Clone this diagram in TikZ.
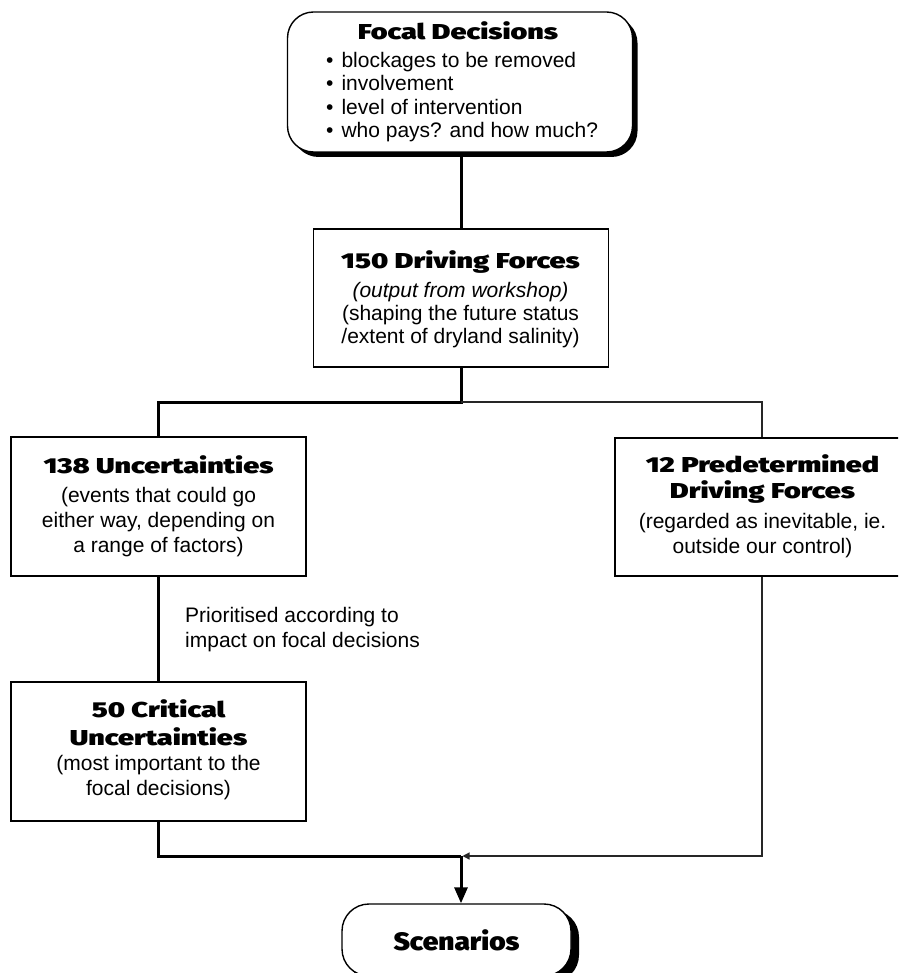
\documentclass[tikz,border=0pt]{standalone}
\usepackage{fontspec}
\usepackage{graphicx}
\setmainfont{Liberation Sans}
% heavy face for the box headings: first black weight that is available
\IfFontExistsTF{Fira Sans Black}{\newfontfamily\heavyfont{Fira Sans Black}}{%
  \IfFontExistsTF{Lato Black}{\newfontfamily\heavyfont{Lato Black}}{%
    \newfontfamily\heavyfont{DejaVu Sans Bold}}}
\usetikzlibrary{arrows.meta,shadows}

\newlength\hvH
\newlength\hvW
\newcommand\ttlbox[1]{\scalebox{\ttlstretch}[1]{#1}}
\newcommand\scnbox[1]{\scalebox{\scnstretch}[1]{#1}}

% heading size from a cap height of 15pt, widened to the set width
\settoheight\hvH{\heavyfont\fontsize{10}{12}\selectfont H}
\ifdim\hvH<1pt \hvH=7pt \fi
\pgfmathsetmacro\ttlsize{10*15/\hvH}
\pgfmathsetmacro\scnsize{10*17.5/\hvH}
\settowidth\hvW{\heavyfont\fontsize{\ttlsize}{24}\selectfont 138 Uncertainties}
\ifdim\hvW<1pt \hvW=230pt \fi
\pgfmathsetmacro\ttlstretch{230/\hvW}
\settowidth\hvW{\heavyfont\fontsize{\scnsize}{24}\selectfont Scenarios}
\ifdim\hvW<1pt \hvW=126pt \fi
\pgfmathsetmacro\scnstretch{126/\hvW}

\tikzset{
  box/.style={draw=black, line width=1.4pt, fill=white, rectangle, inner sep=0pt},
  pill/.style={draw=black, line width=1.4pt, fill=white, rectangle, inner sep=0pt,
    drop shadow={shadow xshift=5pt, shadow yshift=-5pt, fill=black, opacity=1}},
  ttl/.style={anchor=base, inner sep=0pt, font=\heavyfont\fontsize{\ttlsize}{24}\selectfont},
  txt/.style={anchor=base, inner sep=0pt, font=\fontsize{21}{25}\selectfont},
  itxt/.style={txt, font=\fontsize{21}{25}\selectfont\itshape},
  ltxt/.style={anchor=base west, inner sep=0pt, font=\fontsize{21}{25}\selectfont},
  heavyline/.style={line width=3pt, draw=black},
  lightline/.style={line width=1.2pt, draw=black!85},
}

\begin{document}
\begin{tikzpicture}[x=1pt, y=-1pt]
\clip (0,0) rectangle (898,973);
\fill[white] (0,0) rectangle (898,973);

% ---- boxes ----
\node[pill, rounded corners=26pt, minimum width=345pt, minimum height=140pt] (foc) at (460,82) {};
\node[box, minimum width=295pt, minimum height=138pt] (drv) at (461,298) {};
\node[box, minimum width=295pt, minimum height=139pt] (unc) at (158.5,506.5) {};
\node[box, minimum width=294pt, minimum height=138pt] (pre) at (762,507) {};
\node[box, minimum width=295pt, minimum height=139pt] (crit) at (158.5,751.5) {};
\node[pill, rounded corners=27pt, minimum width=229pt, minimum height=72pt,
      drop shadow={shadow xshift=8pt, shadow yshift=-6pt, fill=black, opacity=1},
      font=\heavyfont\fontsize{\scnsize}{27}\selectfont] (scen) at (456.5,940) {\scnbox{Scenarios}};

% ---- focal decisions ----
\node[ttl] (focT) at (458,40) {\ttlbox{Focal Decisions}};
\node[ltxt] (focA) at (326,68) {\textbullet\hskip 8pt blockages to be removed};
\node[ltxt] (focB) at (326,91) {\textbullet\hskip 8pt involvement};
\node[ltxt] (focC) at (326,114.5) {\textbullet\hskip 8pt level of intervention};
\node[ltxt] (focD) at (326,138) {\textbullet\hskip 8pt who pays? and how much?};

% ---- driving forces ----
\node[ttl] (drvT) at (460.5,269) {\ttlbox{150 Driving Forces}};
\node[itxt] (drvA) at (460.5,297.5) {(output from workshop)};
\node[txt] (drvB) at (460.5,320) {(shaping the future status};
\node[txt] (drvC) at (460.5,343) {/extent of dryland salinity)};

% ---- uncertainties ----
\node[ttl] (uncT) at (158.5,473) {\ttlbox{138 Uncertainties}};
\node[txt] (uncA) at (158.5,502) {(events that could go};
\node[txt] (uncB) at (158.5,527) {either way, depending on};
\node[txt] (uncC) at (158.5,552) {a range of factors)};

% ---- predetermined forces ----
\node[ttl] (preT) at (762.5,472) {\ttlbox{12 Predetermined}};
\node[ttl] (preU) at (762.5,498) {\ttlbox{Driving Forces}};
\node[txt] (preA) at (762.5,528) {(regarded as inevitable, ie.};
\node[txt] (preB) at (762.5,553) {outside our control)};

% ---- critical uncertainties ----
\node[ttl] (critT) at (158.5,717) {\ttlbox{50 Critical}};
\node[ttl] (critU) at (158.5,745) {\ttlbox{Uncertainties}};
\node[txt] (critA) at (158.5,770) {(most important to the};
\node[txt] (critB) at (158.5,795) {focal decisions)};

% ---- side note ----
\node[ltxt] (noteA) at (185,622) {Prioritised according to};
\node[ltxt] (noteB) at (185,647) {impact on focal decisions};

% ---- connectors ----
\coordinate (split) at (461,402);
\coordinate (merge) at (461,856);

\draw[heavyline] (drv.north) -- (drv.north |- foc.south);
\draw[heavyline] (drv.south) -- (split) -| (unc.north);
\draw[lightline] (split) -| (pre.north);
\draw[heavyline] (unc.south) -- (crit.north);
\draw[heavyline] (crit.south) |- (merge);
\draw[lightline, -{Triangle[length=7pt,width=7pt]}, shorten >=1.5pt] (pre.south) |- (merge);
\draw[heavyline, -{Triangle[length=16pt,width=13pt]}] (merge) -- (merge |- scen.north);
\end{tikzpicture}
\end{document}
